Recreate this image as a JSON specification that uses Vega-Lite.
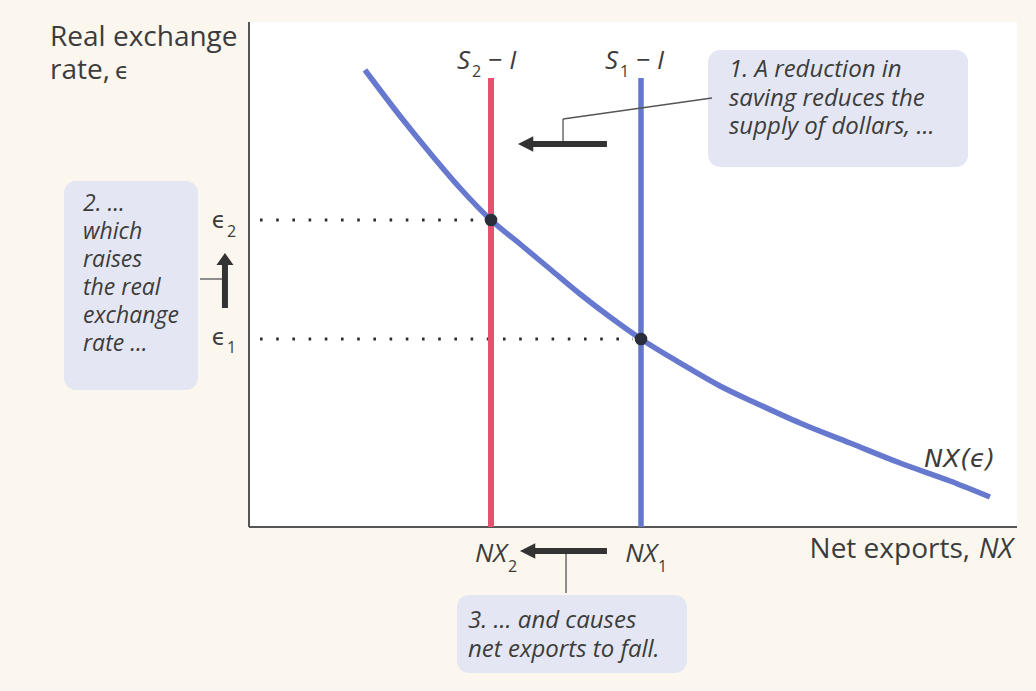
{
  "$schema": "https://vega.github.io/schema/vega-lite/v6.json",
  "width": 768,
  "height": 505,
  "autosize": {"type": "none"},
  "padding": {"left": 249, "top": 22, "right": 19, "bottom": 164},
  "background": "#fbf7ef",
  "config": {
    "view": {"fill": "#ffffff", "stroke": null},
    "text": {"font": "Open Sans", "color": "#3c3c3c"}
  },
  "encoding": {
    "x": {"field": "x", "type": "quantitative", "scale": {"domain": [0, 100], "nice": false, "zero": false}, "axis": null},
    "y": {"field": "y", "type": "quantitative", "scale": {"domain": [0, 100], "nice": false, "zero": false}, "axis": null}
  },
  "layer": [
    {
      "description": "Shaded annotation boxes",
      "data": {"values": [
        {"x": 59.77, "x2": 93.62, "y": 94.46, "y2": 71.29},
        {"x": -24.09, "x2": -6.64, "y": 68.51, "y2": 27.13},
        {"x": 27.08, "x2": 57.03, "y": -13.47, "y2": -28.91}
      ]},
      "mark": {"type": "rect", "fill": "#e4e7f3", "cornerRadius": 12, "clip": false},
      "encoding": {"x2": {"field": "x2"}, "y2": {"field": "y2"}}
    },
    {
      "description": "Axis lines",
      "data": {"values": [
        {"x": 0, "y": 0, "x2": 100, "y2": 0},
        {"x": 0, "y": 0, "x2": 0, "y2": 100}
      ]},
      "mark": {"type": "rule", "color": "#555555", "strokeWidth": 2, "clip": false},
      "encoding": {"x2": {"field": "x2"}, "y2": {"field": "y2"}}
    },
    {
      "description": "Dotted guides from the equilibria to the vertical axis",
      "data": {"values": [
        {"x": 1.43, "x2": 29.4, "y": 60.79},
        {"x": 1.43, "x2": 50.0, "y": 37.23}
      ]},
      "mark": {"type": "rule", "color": "#2e2e2e", "strokeWidth": 3, "strokeDash": [2.6, 13.6]},
      "encoding": {"x2": {"field": "x2"}}
    },
    {
      "description": "S2 - I after the fall in saving",
      "data": {"values": [{"x": 31.51, "y": 0, "y2": 88.91}]},
      "mark": {"type": "rule", "color": "#e9506f", "strokeWidth": 6},
      "encoding": {"y2": {"field": "y2"}}
    },
    {
      "description": "S1 - I before the fall in saving",
      "data": {"values": [{"x": 51.04, "y": 0, "y2": 88.91}]},
      "mark": {"type": "rule", "color": "#6377cc", "strokeWidth": 5.5},
      "encoding": {"y2": {"field": "y2"}}
    },
    {
      "description": "Net exports schedule NX(e)",
      "data": {"values": [
        {"x": 15.10, "y": 90.50},
        {"x": 19.66, "y": 81.39},
        {"x": 23.57, "y": 74.06},
        {"x": 27.47, "y": 67.13},
        {"x": 31.51, "y": 60.79},
        {"x": 35.29, "y": 56.04},
        {"x": 39.19, "y": 51.09},
        {"x": 43.10, "y": 46.14},
        {"x": 47.01, "y": 41.58},
        {"x": 51.04, "y": 37.23},
        {"x": 56.12, "y": 32.48},
        {"x": 61.33, "y": 27.92},
        {"x": 66.54, "y": 24.16},
        {"x": 71.74, "y": 20.59},
        {"x": 78.26, "y": 16.63},
        {"x": 84.77, "y": 12.67},
        {"x": 91.28, "y": 9.11},
        {"x": 96.48, "y": 5.94}
      ]},
      "mark": {"type": "line", "color": "#6679cf", "strokeWidth": 5.5, "interpolate": "monotone", "strokeCap": "butt"}
    },
    {
      "description": "Equilibrium points",
      "data": {"values": [
        {"x": 31.51, "y": 60.79},
        {"x": 51.04, "y": 37.23}
      ]},
      "mark": {"type": "point", "filled": true, "opacity": 1, "color": "#2a2d3a", "size": 160}
    },
    {
      "description": "Thin leader lines from the notes to the arrows",
      "data": {"values": [
        {"x": 40.89, "y": 75.84, "x2": 40.89, "y2": 80.79},
        {"x": 40.89, "y": 80.79, "x2": 60.29, "y2": 84.95},
        {"x": -6.38, "y": 49.11, "x2": -3.13, "y2": 49.11},
        {"x": 41.28, "y": -4.75, "x2": 41.28, "y2": -13.07}
      ]},
      "mark": {"type": "rule", "color": "#555555", "strokeWidth": 1.3, "clip": false},
      "encoding": {"x2": {"field": "x2"}, "y2": {"field": "y2"}}
    },
    {
      "description": "Arrow shafts",
      "data": {"values": [
        {"x": 36.85, "x2": 46.61, "y": 75.84, "y2": 75.84},
        {"x": 36.98, "x2": 46.61, "y": -4.75, "y2": -4.75},
        {"x": -3.13, "x2": -3.13, "y": 43.37, "y2": 52.08}
      ]},
      "mark": {"type": "rule", "color": "#333333", "strokeWidth": 6, "clip": false},
      "encoding": {"x2": {"field": "x2"}, "y2": {"field": "y2"}}
    },
    {
      "description": "Left-pointing arrow heads",
      "data": {"values": [
        {"x": 36.13, "y": 75.84},
        {"x": 36.39, "y": -4.75}
      ]},
      "mark": {"type": "point", "filled": true, "opacity": 1, "color": "#333333", "size": 289, "shape": "M-1,0L0.8,-0.9L0.8,0.9Z", "clip": false}
    },
    {
      "description": "Upward arrow head",
      "data": {"values": [{"x": -3.13, "y": 52.57}]},
      "mark": {"type": "point", "filled": true, "opacity": 1, "color": "#333333", "size": 289, "shape": "M0,-1L1,0.4L-1,0.4Z", "clip": false}
    },
    {
      "description": "Vertical axis title",
      "data": {"values": [
        {"x": -25.91, "y": 95.25, "t": "Real exchange"},
        {"x": -25.91, "y": 88.71, "t": "rate,"}
      ]},
      "mark": {"type": "text", "align": "left", "baseline": "alphabetic", "fontSize": 28, "clip": false},
      "encoding": {"text": {"field": "t"}}
    },
    {
      "description": "Epsilon of the vertical axis title",
      "data": {"values": [{"x": -17.45, "y": 88.71, "t": "ϵ"}]},
      "mark": {"type": "text", "align": "left", "baseline": "alphabetic", "fontSize": 23, "font": "DejaVu Sans", "clip": false},
      "encoding": {"text": {"field": "t"}}
    },
    {
      "description": "Horizontal axis title",
      "data": {"values": [{"x": 93.88, "y": -6.14, "t": "Net exports,"}]},
      "mark": {"type": "text", "align": "right", "baseline": "alphabetic", "fontSize": 28, "clip": false},
      "encoding": {"text": {"field": "t"}}
    },
    {
      "description": "Italic symbol of the horizontal axis title",
      "data": {"values": [{"x": 99.48, "y": -6.14, "t": "NX"}]},
      "mark": {"type": "text", "align": "right", "baseline": "alphabetic", "fontSize": 28, "fontStyle": "italic", "clip": false},
      "encoding": {"text": {"field": "t"}}
    },
    {
      "description": "Italic curve and point labels",
      "data": {"values": [
        {"x": 28.78, "y": 90.69, "t": "S"},
        {"x": 48.05, "y": 90.69, "t": "S"},
        {"x": 33.59, "y": -6.93, "t": "NX"},
        {"x": 53.13, "y": -6.93, "t": "NX"}
      ]},
      "mark": {"type": "text", "align": "right", "baseline": "alphabetic", "fontSize": 26, "fontStyle": "italic", "clip": false},
      "encoding": {"text": {"field": "t"}}
    },
    {
      "description": "Label of the net exports schedule",
      "data": {"values": [{"x": 97.14, "y": 11.88, "t": "NX(ϵ)"}]},
      "mark": {"type": "text", "align": "right", "baseline": "alphabetic", "fontSize": 25, "fontStyle": "italic", "font": "DejaVu Sans", "clip": false},
      "encoding": {"text": {"field": "t"}}
    },
    {
      "description": "Exchange rate levels",
      "data": {"values": [
        {"x": -3.0, "y": 59.21, "t": "ϵ"},
        {"x": -3.0, "y": 36.04, "t": "ϵ"}
      ]},
      "mark": {"type": "text", "align": "right", "baseline": "alphabetic", "fontSize": 23, "font": "DejaVu Sans", "clip": false},
      "encoding": {"text": {"field": "t"}}
    },
    {
      "description": "Minus I parts of the saving-minus-investment labels",
      "data": {"values": [
        {"x": 31.12, "y": 90.69, "t": "− I"},
        {"x": 50.39, "y": 90.69, "t": "− I"}
      ]},
      "mark": {"type": "text", "align": "left", "baseline": "alphabetic", "fontSize": 26, "fontStyle": "italic", "clip": false},
      "encoding": {"text": {"field": "t"}}
    },
    {
      "description": "Subscripts",
      "data": {"values": [
        {"x": 29.04, "y": 89.11, "t": "2"},
        {"x": 48.31, "y": 89.11, "t": "1"},
        {"x": 33.72, "y": -8.91, "t": "2"},
        {"x": 53.26, "y": -8.91, "t": "1"},
        {"x": -2.86, "y": 57.43, "t": "2"},
        {"x": -2.86, "y": 34.46, "t": "1"}
      ]},
      "mark": {"type": "text", "align": "left", "baseline": "alphabetic", "fontSize": 16, "clip": false},
      "encoding": {"text": {"field": "t"}}
    },
    {
      "description": "Notes in the upper and lower boxes",
      "data": {"values": [
        {"x": 62.5, "y": 89.11, "t": "1. A reduction in"},
        {"x": 62.5, "y": 83.37, "t": "saving reduces the"},
        {"x": 62.5, "y": 77.82, "t": "supply of dollars, ..."},
        {"x": 28.52, "y": -20.0, "t": "3. ... and causes"},
        {"x": 28.52, "y": -25.74, "t": "net exports to fall."}
      ]},
      "mark": {"type": "text", "align": "left", "baseline": "alphabetic", "fontSize": 24, "fontStyle": "italic", "clip": false},
      "encoding": {"text": {"field": "t"}}
    },
    {
      "description": "Note in the left box",
      "data": {"values": [
        {"x": -21.61, "y": 62.57, "t": "2. ..."},
        {"x": -21.61, "y": 57.03, "t": "which"},
        {"x": -21.61, "y": 51.49, "t": "raises"},
        {"x": -21.61, "y": 45.94, "t": "the real"},
        {"x": -21.61, "y": 40.40, "t": "exchange"},
        {"x": -21.61, "y": 34.85, "t": "rate ..."}
      ]},
      "mark": {"type": "text", "align": "left", "baseline": "alphabetic", "fontSize": 23, "fontStyle": "italic", "clip": false},
      "encoding": {"text": {"field": "t"}}
    }
  ]
}
